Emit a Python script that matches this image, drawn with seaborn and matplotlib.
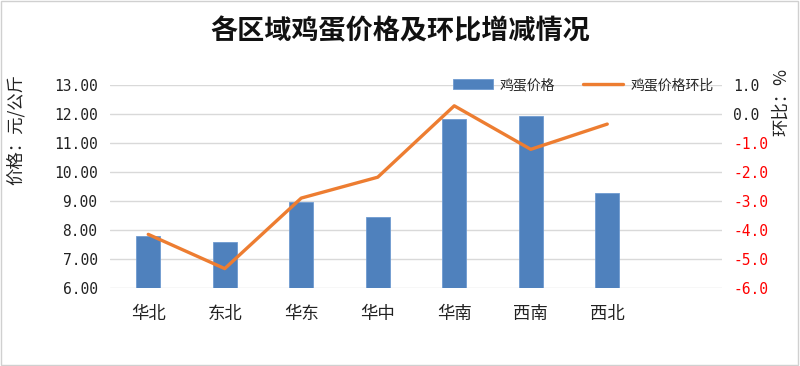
import matplotlib
matplotlib.use("Agg")
import matplotlib.pyplot as plt
import numpy as np
import pandas as pd
import seaborn as sns
from matplotlib.patches import Rectangle

regions = ["华北", "东北", "华东", "华中", "华南", "西南", "西北"]
price = [7.80, 7.60, 8.95, 8.45, 11.83, 11.93, 9.28]
mom_change = [-4.15, -5.33, -2.90, -2.18, 0.28, -1.22, -0.35]

sns.set_style("white")
plt.rcParams["font.family"] = ["Noto Sans CJK SC", "DejaVu Sans"]
plt.rcParams["axes.unicode_minus"] = False

df = pd.DataFrame({"region": regions, "price": price, "mom": mom_change})

fig = plt.figure(figsize=(8, 3.66), dpi=100)
ax = fig.add_axes([0.1375, 0.213, 0.765, 0.555])

sns.barplot(df, x="region", y="price", order=regions, color="#4F81BD",
            saturation=1, width=0.31, edgecolor="#6f9bd1", linewidth=0.6,
            ax=ax, label="鸡蛋价格", legend=False)
ax.set_ylim(6, 13)
ax.set_yticks(np.arange(6, 14, 1))
ax.set_yticklabels([f"{v:.2f}" for v in np.arange(6, 14, 1)],
                   family="DejaVu Sans Mono", fontsize=10.5)
ax.set_xlim(-0.5, 7.5)
ax.grid(axis="y", color="#d9d9d9", linewidth=1)
ax.set_axisbelow(True)
ax.set_xlabel("")
ax.set_ylabel("")
ax.tick_params(axis="both", length=0, colors="#222222")
ax.tick_params(axis="x", labelsize=12.5, pad=12)
ax.tick_params(axis="y", pad=9)
for s in ax.spines.values():
    s.set_visible(False)

ax2 = ax.twinx()
sns.lineplot(x=np.arange(len(regions)), y=df["mom"], color="#ED7D31",
             linewidth=2.4, ax=ax2, label="鸡蛋价格环比", legend=False)
ax2.set_ylim(-6, 1)
ax2.set_yticks(np.arange(-6, 2, 1))
ax2.set_yticklabels([f"{v:.1f}" for v in np.arange(-6, 2, 1)],
                    family="DejaVu Sans Mono", fontsize=10.5)
for lab, v in zip(ax2.get_yticklabels(), np.arange(-6, 2, 1)):
    lab.set_color("red" if v < 0 else "#222222")
ax2.tick_params(axis="y", length=0, pad=8)
ax2.set_ylabel("")
ax2.set_xlim(-0.5, 7.5)
for s in ax2.spines.values():
    s.set_visible(False)

h1, l1 = ax.get_legend_handles_labels()
h2, l2 = ax2.get_legend_handles_labels()
leg = ax2.legend(h1 + h2, l1 + l2, loc="center right", bbox_to_anchor=(1.0, 1.0),
                 ncol=2, frameon=False, fontsize=10, handlelength=2.9,
                 handleheight=0.7, columnspacing=2.0, handletextpad=0.5,
                 borderaxespad=0.2)

fig.text(0.5, 0.915, "各区域鸡蛋价格及环比增减情况", ha="center", va="center",
         fontsize=19.5, fontweight="bold", color="#111111")
fig.text(0.019, 0.645, "价格：元/公斤", rotation=90, ha="center", va="center",
         fontsize=12.5, color="#222222")
fig.text(0.976, 0.72, "环比：%", rotation=90, ha="center", va="center",
         fontsize=12.5, color="#222222")

fig.patches.append(Rectangle((0.001, 0.002), 0.997, 0.995, transform=fig.transFigure,
                             fill=False, edgecolor="#d0d0d0", linewidth=1))

fig.savefig("out.png", dpi=100, facecolor="white")
